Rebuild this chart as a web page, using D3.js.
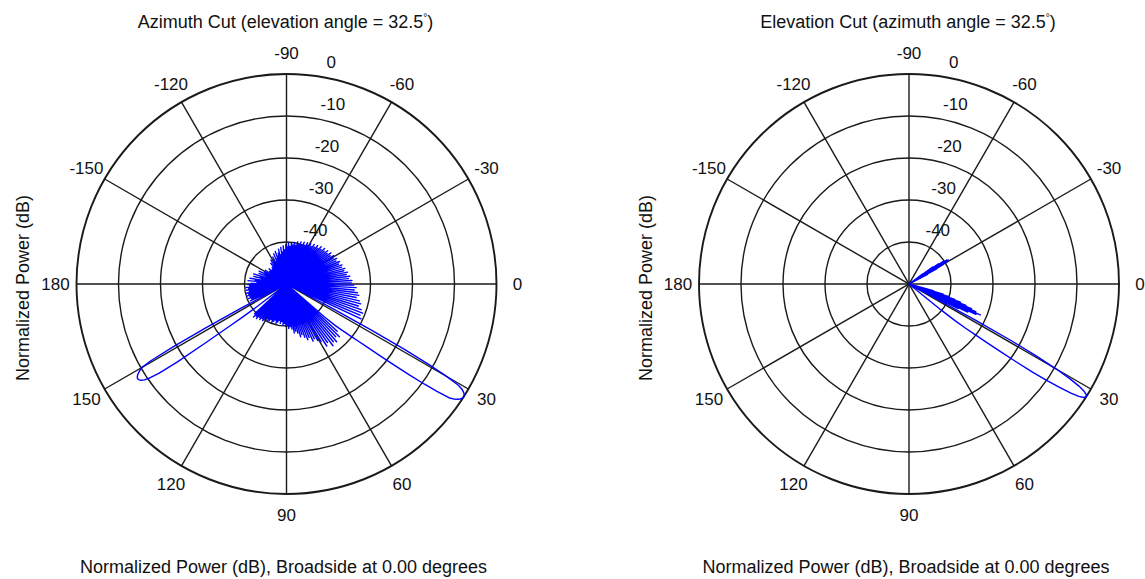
<!DOCTYPE html>
<html>
<head>
<meta charset="utf-8">
<script src="https://cdn.jsdelivr.net/npm/d3@7"></script>
<style>
  body { margin: 0; background: #fff; }
  text { font-family: "Liberation Sans", Arial, sans-serif; fill: #111; }
</style>
</head>
<body>
<div id="main"></div>
<script>
// radial axis: dB, clipped at the floor
var dbFloor = -50,
  radialTicks = [-40, -30, -20, -10, 0],
  angleTicks = [0, 30, 60, 90, 120, 150, 180, -150, -120, -90, -60, -30];

// azimuth cut: sidelobe peaks at odd angles -179..179 (null = inside a main lobe)
var azSideAngles = d3.range(-179, 180, 2);
var azSidePeakDb = [
  -41.5, -43, -40.8, -42.5, -41.2, -44, -42, -43.5, -41.8, -45, -43, -44.5, -42.8, -46, -44,
  -45.5, -44, -46.5, -45, -47, -44.5, -46, -45.2, -47.5, -44.8, -46.2, -43.8, -45.5, -43.2, -44.6,
  -43.5, -42.8, -44.2, -42.2, -43.6, -41.8, -43, -42.4, -41.5, -42.9, -41.2, -42.3, -40.9, -41.8, -40.6,
  -41.2, -40.3, -41, -40.1, -40.6, -39.9, -40.5, -39.6, -40.2, -39.4, -40, -39.2, -39.8, -39, -39.5,
  -38.8, -39.3, -38.5, -39, -38.2, -38.7, -37.9, -38.4, -37.6, -38.1, -37.4, -37.9, -37.1, -37.6, -36.9,
  -37.3, -36.6, -37, -36.3, -36.7, -36, -36.3, -35.6, -36, -35.2, -35.6, -34.8, -35.2, -34.4, -34.6,
  -34, -33.4, -33.8, -33, -32.6, -33.1, -32.2, -31.7, -32.1, -31.2, -30.6, -31, -30.4,
  null, null, null, null, null, null, null, null,
  -33.5, -32.2, -32.8, -31.8, -32.3, -31.6, -33, -32.4, -34,
  -34.6, -35.4, -35, -36.2, -35.8, -36.6, -37.4, -37, -38, -38.6, -38.2, -39.2, -39.8, -39.4, -40.2,
  -40, -40.6, -40.2, -41, -40.5, -41.2, -40.7, -40.3, -41, -40.6, -40.1, -40.8, -40.4, -39.9, -40.6,
  -40.2, -39.6, -40, -39.4, -39.8, -39.1, -39.5, -38.9, -39.6,
  null, null, null, null, null, null, null, null,
  -40.5, -41, -40.3, -40.8, -40.1, -40.7, -40.2, -41, -40.4, -40.9, -40.3, -41.2, -40.8
];
var azMainDeg = [27.5, 28, 28.5, 29, 29.5, 30, 30.5, 31, 31.5, 32, 32.5, 33, 33.5, 34, 34.5,
  35, 35.5, 36, 36.5, 37, 37.5, 38, 38.5, 39, 39.5, 40, 40.5, 41, 41.5];
var azMainDb = [-50, -38, -27, -18, -11, -6, -2.5, -1.2, -0.5, -0.1, 0, -0.1, -0.4, -0.9, -1.6,
  -2.8, -6, -9.5, -13.5, -18, -22, -25.5, -28, -30, -32, -33.5, -35, -38, -50];
var azBackDeg = [142, 142.5, 143, 143.5, 144, 144.5, 145, 145.5, 146, 146.5, 147,
  147.5, 148, 148.5, 149, 149.5, 150, 150.5, 151, 151.5, 152, 152.5];
var azBackDb = [-50, -41, -37, -33, -26, -18, -13, -10.5, -9.2, -8.5, -8.1,
  -8, -8.1, -8.4, -8.9, -9.5, -10.2, -13, -19, -28, -38, -50];

// elevation cut
var elDeg = [-180, -90,
  -37, -36.5, -36, -35.5, -35, -34.5, -34, -33.5, -33, -32.5, -32, -31.5, -31, -30.5, -30,
  -29.5, -29, -28.5, -28, -27.5, -27, 0,
  15, 15.5, 16, 16.5, 17, 17.5, 18, 18.5, 19, 19.5, 20, 20.5, 21, 21.5, 22, 22.5, 23, 23.5,
  24, 24.5, 25, 25.5, 26, 26.5, 27, 27.5,
  28, 28.5, 29, 29.5, 30, 30.5, 31, 31.5, 32, 32.5, 33, 33.5, 34, 34.5, 35, 35.5, 36, 36.5,
  37, 37.5, 38, 38.5, 39, 39.5, 90, 180];
var elDb = [-50, -50,
  -50, -46, -50, -43, -50, -41.5, -50, -40.2, -50, -39.4, -50, -39, -50, -39.6, -50,
  -40.8, -50, -42.5, -50, -45, -50, -50,
  -50, -44, -50, -41.5, -50, -40, -50, -38.5, -50, -37, -50, -35.5, -50, -34, -50, -32.8, -50, -31.5,
  -50, -32.5, -50, -34.5, -50, -37, -50, -41,
  -50, -32, -22, -15, -9.5, -5.5, -2.8, -1.1, -0.2, 0, -0.4, -1.5, -3.5, -6.5, -10, -14, -18.5, -23,
  -27, -30.5, -33, -36, -40, -50, -50, -50];

var width = 1145, height = 579, R = 210;

var svg = d3
  .select("#main")
  .append("svg")
  .attr("width", width)
  .attr("height", height)
  .style("background", "#fff");

var r = d3.scaleLinear().domain([dbFloor, 0]).range([0, R]).clamp(true);
var ang = d3.scaleLinear().domain([-180, 180]).range([-Math.PI / 2, 1.5 * Math.PI]);

function toRad(d) {
  return (d * Math.PI) / 180;
}

function azimuthPoints() {
  var pts = [];
  azSideAngles.forEach(function(a, i) {
    var v = azSidePeakDb[i];
    if (v === null) return;
    pts.push({ deg: a - 1, db: dbFloor });
    pts.push({ deg: a, db: v });
  });
  pts.push({ deg: 180, db: dbFloor });
  azMainDeg.forEach(function(a, i) {
    pts.push({ deg: a, db: azMainDb[i] });
  });
  azBackDeg.forEach(function(a, i) {
    pts.push({ deg: a, db: azBackDb[i] });
  });
  return pts.sort(function(a, b) {
    return a.deg - b.deg;
  });
}

function drawPolar(cx, cy, pts, title, ylabelX) {
  var g = svg.append("g").attr("transform", "translate(" + cx + "," + cy + ")");

  g.selectAll(".spoke")
    .data([0, 30, 60, 90, 120, 150])
    .enter()
    .append("line")
    .attr("x1", function(d) { return R * Math.cos(toRad(d)); })
    .attr("y1", function(d) { return R * Math.sin(toRad(d)); })
    .attr("x2", function(d) { return -R * Math.cos(toRad(d)); })
    .attr("y2", function(d) { return -R * Math.sin(toRad(d)); })
    .style("stroke", "#1a1a1a")
    .style("stroke-width", 1.4);

  g.selectAll(".ring")
    .data(radialTicks)
    .enter()
    .append("circle")
    .attr("r", function(d) { return r(d); })
    .style("fill", "none")
    .style("stroke", "#1a1a1a")
    .style("stroke-width", function(d) { return d === 0 ? 1.9 : 1.4; });

  g.selectAll(".alabel")
    .data(angleTicks)
    .enter()
    .append("text")
    .attr("x", function(d) { return 1.1 * R * Math.cos(toRad(d)); })
    .attr("y", function(d) { return 1.1 * R * Math.sin(toRad(d)); })
    .attr("dy", "0.35em")
    .style("text-anchor", "middle")
    .style("font-size", "17px")
    .text(function(d) { return d; });

  var c82 = Math.cos(toRad(82));
  g.selectAll(".rlabel")
    .data(radialTicks)
    .enter()
    .append("text")
    .attr("x", function(d) { return (r(d) + 12) * c82 + 9; })
    .attr("y", function(d) { return -(r(d) + 12); })
    .attr("dy", "0.35em")
    .style("font-size", "17px")
    .text(function(d) { return d; });

  var line = d3
    .lineRadial()
    .angle(function(d) { return ang(d.deg); })
    .radius(function(d) { return r(d.db); });

  g.append("path")
    .datum(pts)
    .attr("d", line)
    .style("fill", "none")
    .style("stroke", "#0000ff")
    .style("stroke-width", 1.4)
    .style("stroke-linejoin", "round");

  var t = svg
    .append("text")
    .attr("x", cx - 1)
    .attr("y", 28)
    .style("text-anchor", "middle")
    .style("font-size", "18px");
  t.append("tspan").text(title);
  t.append("tspan").attr("dy", -7).style("font-size", "10px").text("°");
  t.append("tspan").attr("dy", 7).text(")");

  svg
    .append("text")
    .attr("x", cx - 3)
    .attr("y", 573)
    .style("text-anchor", "middle")
    .style("font-size", "18px")
    .text("Normalized Power (dB), Broadside at 0.00 degrees");

  svg
    .append("text")
    .attr("transform", "translate(" + ylabelX + "," + (cy + 4) + ") rotate(-90)")
    .style("text-anchor", "middle")
    .style("font-size", "18px")
    .text("Normalized Power (dB)");
}

drawPolar(286.5, 284, azimuthPoints(), "Azimuth Cut (elevation angle = 32.5", 29);

var elPts = elDeg.map(function(a, i) {
  return { deg: a, db: elDb[i] };
});
drawPolar(909, 284, elPts, "Elevation Cut (azimuth angle = 32.5", 652);
</script>
</body>
</html>
